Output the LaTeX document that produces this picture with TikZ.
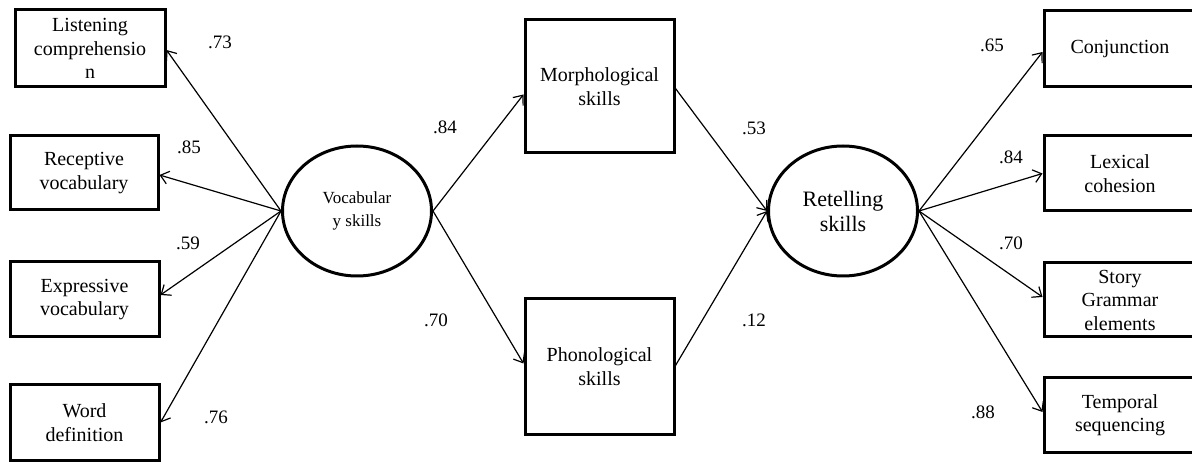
\documentclass[tikz,border=0pt]{standalone}
\usepackage{fontspec}
\setmainfont{Liberation Serif}
\usetikzlibrary{arrows.meta,shapes.geometric}
\begin{document}
\begin{tikzpicture}[x=1pt,y=-1pt,
  box/.style={draw,line width=3pt,inner sep=0pt,align=center,
    font=\fontsize{20}{23.5}\selectfont},
  latent/.style={draw,ellipse,line width=3pt,inner sep=0pt,align=center,
    minimum width=149pt,minimum height=130pt},
  path/.style={line width=1.2pt,-{Straight Barb[length=8pt,width=13pt,line width=1.2pt]}},
  coef/.style={font=\fontsize{19}{22}\selectfont,inner sep=0pt}]
\useasboundingbox (0,0) rectangle (1192,462);
\clip (0,0) rectangle (1192,462);
\fill[white] (0,0) rectangle (1192,462);

% left indicators
\node[box,minimum width=150pt,minimum height=77pt] (li) at (90,48.5) {Listening\\comprehensio\\n};
\node[box,minimum width=148pt,minimum height=74pt] (rv) at (84,173) {Receptive\\vocabulary};
\node[box,minimum width=149pt,minimum height=75pt] (ev) at (84.5,299.5) {Expressive\\vocabulary};
\node[box,minimum width=149pt,minimum height=75pt] (wd) at (84.5,422.5) {Word\\definition};

% latent variables
\node[latent,font=\fontsize{17}{23}\selectfont] (vs) at (357,211) {Vocabular\\y skills};
\node[latent,font=\fontsize{22}{25}\selectfont] (rs) at (843,211) {Retelling\\skills};

% mediators
\node[box,minimum width=149pt,minimum height=133pt] (mo) at (599.5,86.5) {Morphological\\skills};
\node[box,minimum width=149pt,minimum height=135pt] (ph) at (599.5,366.5) {Phonological\\skills};

% right indicators
\node[box,minimum width=152pt,minimum height=76pt] (cj) at (1120,49) {Conjunction};
\node[box,minimum width=152pt,minimum height=75pt] (lc) at (1120,173.5) {Lexical\\cohesion};
\node[box,minimum width=152pt,minimum height=74pt] (sg) at (1120,300) {Story\\Grammar\\elements};
\node[box,minimum width=152pt,minimum height=74pt] (tp) at (1120,415) {Temporal\\sequencing};

% connectors
\draw[path] (vs.west) -- ([yshift=-1.5pt]li.east);
\draw[path] (vs.west) -- ([yshift=-2pt]rv.east);
\draw[path] (vs.west) -- ([yshift=4.5pt]ev.east);
\draw[path] (vs.west) -- (wd.east);
\draw[path] (vs.east) -- ([yshift=-8pt]mo.west);
\draw[path] (vs.east) -- ([yshift=3pt]ph.west);
\draw[path] ([yshift=-2pt]mo.east) -- (rs.west);
\draw[path] ([yshift=1pt]ph.east) -- (rs.west);
\draw[path] (rs.east) -- ([yshift=-3pt]cj.west);
\draw[path] (rs.east) -- (lc.west);
\draw[path] (rs.east) -- ([yshift=3pt]sg.west);
\draw[path] (rs.east) -- ([yshift=3pt]tp.west);

% coefficients
\node[coef] (c1) at (220,42) {.73};
\node[coef] (c2) at (189,147) {.85};
\node[coef] (c3) at (188,243) {.59};
\node[coef] (c4) at (216,417) {.76};
\node[coef] (c5) at (445,127) {.84};
\node[coef] (c6) at (436,320) {.70};
\node[coef] (c7) at (754,128) {.53};
\node[coef] (c8) at (754,320) {.12};
\node[coef] (c9) at (992,45) {.65};
\node[coef] (c10) at (1011,157) {.84};
\node[coef] (c11) at (1011,243) {.70};
\node[coef] (c12) at (983,412) {.88};
\end{tikzpicture}
\end{document}
